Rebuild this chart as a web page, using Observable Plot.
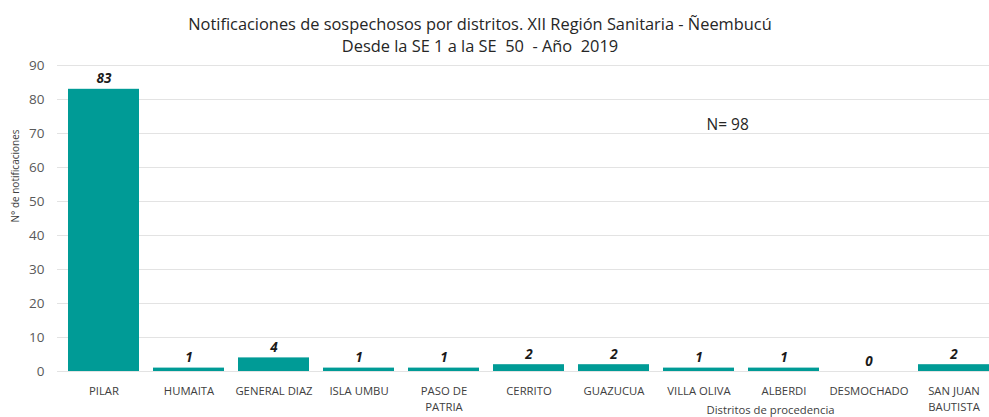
<!DOCTYPE html>
<html>
<head>
<meta charset="utf-8">
<script src="https://cdn.jsdelivr.net/npm/d3@7"></script>
<script src="https://cdn.jsdelivr.net/npm/@observablehq/plot@0.6"></script>
<style>
  body { margin: 0; background: #fff; font-family: "Open Sans", sans-serif; }
  #title { height: 50px; box-sizing: border-box; padding-top: 13px; text-align: center; font-size: 16.4px; line-height: 22px; color: #262626; width: 960px; }
  #title div { white-space: nowrap; }
</style>
</head>
<body>
<div id="title">
  <div>Notificaciones de sospechosos por distritos. XII Región Sanitaria - Ñeembucú</div>
  <div>Desde la SE 1 a la SE&nbsp; 50&nbsp; - Año&nbsp; 2019</div>
</div>
<div id="chart"></div>
<script>
const districts = ["PILAR", "HUMAITA", "GENERAL DIAZ", "ISLA UMBU", "PASO DE\nPATRIA", "CERRITO", "GUAZUCUA", "VILLA OLIVA", "ALBERDI", "DESMOCHADO", "SAN JUAN\nBAUTISTA"];
const counts = [83, 1, 4, 1, 1, 2, 2, 1, 1, 0, 2];
const yTicks = [0, 10, 20, 30, 40, 50, 60, 70, 80, 90];
const yLabel = "N° de notificaciones";
const xLabel = "Distritos de procedencia";

const data = districts.map((d, i) => ({district: d, count: counts[i]}));
const total = d3.sum(counts);

const chart = Plot.plot({
  width: 989,
  height: 367,
  marginTop: 15,
  marginBottom: 46,
  marginLeft: 57,
  marginRight: 0,
  style: {fontFamily: "Open Sans, sans-serif", background: "#fff", overflow: "hidden"},
  x: {domain: districts, range: [57, 1000], paddingInner: 0.17, paddingOuter: 0.085, label: null},
  y: {domain: [0, 90], label: null},
  marks: [
    Plot.gridY(yTicks, {stroke: "#e3e3e3", strokeOpacity: 1, strokeWidth: 1}),
    Plot.barY(data, {x: "district", y: "count", fill: "#009b96"}),
    Plot.text(data, {x: "district", y: "count", text: d => String(d.count), lineAnchor: "bottom", dy: -6, fontWeight: "bold", fontStyle: "italic", fontSize: 13.5, fill: "#1a1a1a"}),
    Plot.axisY({ticks: yTicks, tickSize: 0, tickPadding: 13, fontSize: 13.5, fill: "#595959", label: null}),
    Plot.axisX({tickSize: 0, tickPadding: 11, fontSize: 11.3, fill: "#404040", lineHeight: 1.5, label: null}),
    Plot.text([xLabel], {frameAnchor: "bottom", dx: 247, dy: 42, fontSize: 11.3, fill: "#404040"}),
    Plot.text([yLabel], {frameAnchor: "left", rotate: -90, dx: -42, dy: 4, fontSize: 10, fill: "#404040"}),
    Plot.text(["N= " + total], {frameAnchor: "top-left", dx: 649, dy: 53, fontSize: 15.5, fill: "#262626", textAnchor: "start"})
  ]
});
document.getElementById("chart").appendChild(chart);
</script>
</body>
</html>
